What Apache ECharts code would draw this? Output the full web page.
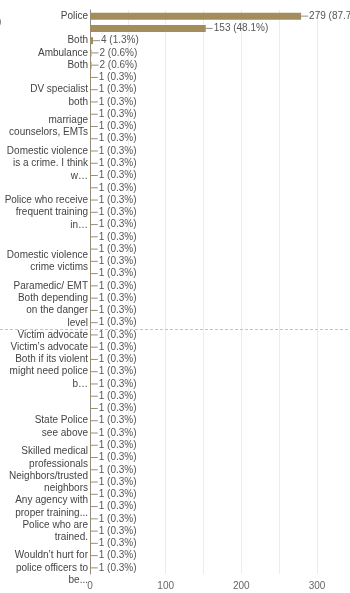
<!DOCTYPE html>
<html>
<head>
<meta charset="utf-8">
<script src="https://cdn.jsdelivr.net/npm/echarts@6/dist/echarts.min.js"></script>
<style>
  html, body { margin: 0; padding: 0; background: #fff; }
  #chart { width: 350px; height: 593px; }
</style>
</head>
<body>
<div id="chart"></div>
<script>
// Answers, top to bottom (blank entries are rows whose label is not shown)
const categories = [
  'Police', '', 'Both', 'Ambulance', 'Both', '', 'DV specialist', 'both', '',
  'marriage\ncounselors, EMTs', '', '', 'Domestic violence\nis a crime. I think\nw…',
  '', '', '', 'Police who receive\nfrequent training\nin…', '', '', '',
  'Domestic violence\ncrime victims', '', 'Paramedic/ EMT', '',
  'Both depending\non the danger\nlevel', '', 'Victim advocate', 'Victim’s advocate', '',
  'Both if its violent\nmight need police\nb…', '', '', '', 'State Police', 'see above', '',
  'Skilled medical\nprofessionals', '', 'Neighbors/trusted\nneighbors', '',
  'Any agency with\nproper training...', '', 'Police who are\ntrained.', '', '',
  'Wouldn’t hurt for\npolice officers to\nbe...'
];

// Number of respondents choosing each answer
const counts = [
  279, 153, 4, 2, 2, 1, 1, 1, 1, 1, 1, 1, 1, 1, 1, 1, 1, 1, 1, 1, 1, 1, 1,
  1, 1, 1, 1, 1, 1, 1, 1, 1, 1, 1, 1, 1, 1, 1, 1, 1, 1, 1, 1, 1, 1, 1
];

// Total number of responses, used for the percentages
const totalResponses = 318;

// Value-axis tick labels
const xTicks = [0, 100, 200, 300];

const chart = echarts.init(document.getElementById('chart'), null, { renderer: 'canvas' });

const FONT = '"Liberation Sans", Arial, sans-serif';

chart.setOption({
  animation: false,
  grid: { left: 90, right: 33, top: 10, bottom: 19, containLabel: false },
  xAxis: {
    type: 'value',
    min: xTicks[0],
    max: xTicks[xTicks.length - 1],
    interval: xTicks[1] - xTicks[0],
    axisLine: { show: false },
    axisTick: { show: false },
    minorTick: { show: false, splitNumber: 2 },
    splitLine: { show: true, lineStyle: { color: '#ececec', width: 1 } },
    minorSplitLine: { show: true, lineStyle: { color: '#ececec', width: 1 } },
    axisLabel: { color: '#666', fontSize: 10, fontFamily: FONT, margin: 7 }
  },
  yAxis: {
    type: 'category',
    inverse: true,
    data: categories,
    axisLine: { show: true, lineStyle: { color: '#8c8c8c', width: 1 } },
    axisTick: { show: false },
    splitLine: { show: false },
    axisLabel: {
      interval: 0,
      color: '#444',
      fontSize: 10,
      lineHeight: 12.5,
      fontFamily: FONT,
      margin: 2,
      align: 'right'
    }
  },
  series: [{
    type: 'bar',
    data: counts,
    barWidth: 7,
    itemStyle: { color: '#a38d5d' },
    label: {
      show: true,
      position: 'right',
      distance: 0,
      formatter: function (p) {
        const pct = (p.value / totalResponses * 100).toFixed(1);
        return '{d| }{t|' + p.value + ' (' + pct + '%)}';
      },
      rich: {
        d: { width: 7, height: 1, backgroundColor: '#8f8f8f', fontSize: 1 },
        t: { color: '#555', fontSize: 10, fontFamily: FONT, padding: [0, 0, 0, 1] }
      }
    }
  }]
});

// Dashed separator between the 26th and 27th answers, and the cut-off text edge at top left
const yA = chart.convertToPixel({ yAxisIndex: 0 }, 25);
const yB = chart.convertToPixel({ yAxisIndex: 0 }, 26);
const sepY = Math.round((yA + yB) / 2) + 0.5;

chart.setOption({
  graphic: [
    {
      type: 'line',
      silent: true,
      shape: { x1: 0, y1: sepY, x2: 350, y2: sepY },
      style: { stroke: '#c4c4c4', lineWidth: 1, lineDash: [3, 2] },
      z: 10
    },
    {
      type: 'text',
      silent: true,
      left: -2,
      top: 17,
      style: { text: ')', fill: '#555', font: '10px ' + FONT }
    }
  ]
});
</script>
</body>
</html>
